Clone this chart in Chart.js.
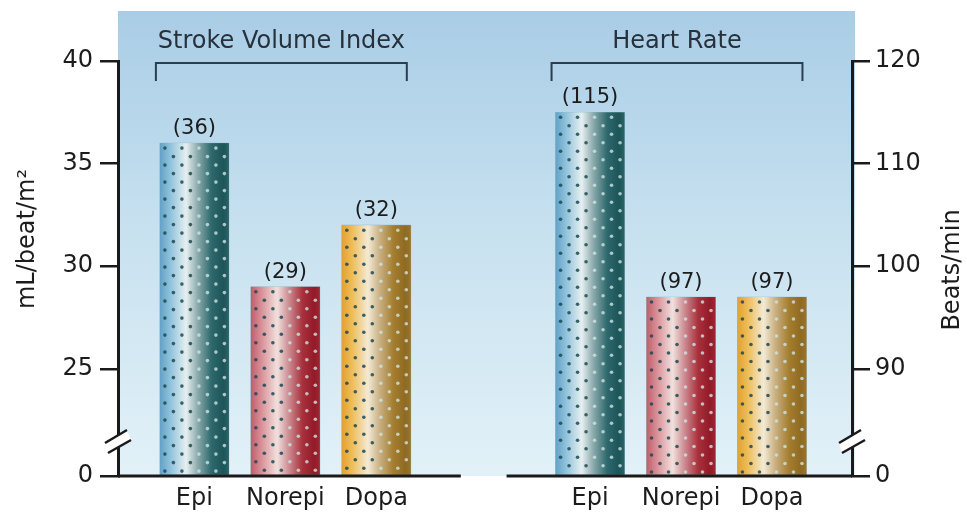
<!DOCTYPE html>
<html>
<head>
<meta charset="utf-8">
<script src="https://cdn.jsdelivr.net/npm/chart.js@4.4.1/dist/chart.umd.min.js"></script>
<style>
  html, body { margin: 0; padding: 0; background: #fff; }
  #wrap { width: 967px; height: 516px; }
</style>
</head>
<body>
<div id="wrap"><canvas id="chart"></canvas></div>
<script>
// values
const drugs = ["Epi", "Norepi", "Dopa"];
const strokeVolumeIndex = [36, 29, 32];
const heartRate = [115, 97, 97];
const svTicks = [25, 30, 35, 40];
const hrTicks = [90, 100, 110, 120];
const groupTitles = ["Stroke Volume Index", "Heart Rate"];
const svAxisTitle = "mL/beat/m²";
const hrAxisTitle = "Beats/min";
const brokenZero = "0";

const FONT = "'DejaVu Sans', sans-serif";
const INK = "#1c1c1c";

// axis ranges (bottom of both axes is a broken "0")
const svMin = 19.78, svMax = 40;
const hrMin = 79.56, hrMax = 120;
const groupGap = 1.35;
const slot = (g, i) => 1 + i + g * (drugs.length + groupGap);
const xPositions = [0, 1].flatMap(g => drugs.map((_, i) => slot(g, i)));
const xLabels = [...drugs, ...drugs];

// bar shading, one palette per drug
const gradStops = [0, 0.15, 0.38, 0.55, 0.75, 0.92, 1];
const palettes = [
    ["#62a1c6", "#8fc2dc", "#e6eff0", "#8aa9ab", "#2d686c", "#1d5559", "#2a6467"],
    ["#bd5f6a", "#d88f97", "#f1e0dc", "#cc8c92", "#a8303c", "#931a28", "#9e2531"],
    ["#e3a12e", "#edbd5a", "#f3ead4", "#c9b082", "#a47d2e", "#8f6a22", "#9a742a"]
];

function paintBar(ctx, el, pal, area) {
    const left = el.x - el.width / 2, right = el.x + el.width / 2;
    const top = el.y, bottom = Math.min(el.base, area.bottom);
    const g = ctx.createLinearGradient(left, 0, right, 0);
    gradStops.forEach((s, k) => g.addColorStop(s, pal[k]));
    ctx.fillStyle = g;
    ctx.fillRect(left, top, right - left, bottom - top);

    // staggered dot texture
    const step = 8.5;
    let row = 0;
    for (let y = top + 5; y < bottom - 2; y += step, row++) {
        for (let x = left + 5 + (row % 2) * step; x < right - 2; x += step * 2) {
            const f = (x - left) / (right - left);
            ctx.fillStyle = f < 0.52 ? "rgba(30,72,82,0.85)" : "rgba(205,228,228,0.8)";
            ctx.beginPath();
            ctx.arc(x, y, 1.8, 0, Math.PI * 2);
            ctx.fill();
        }
    }
}

function breakMark(ctx, x, y) {
    ctx.save();
    ctx.fillStyle = "#fff";
    ctx.beginPath();
    ctx.moveTo(x - 13, y + 2);
    ctx.lineTo(x + 9, y - 11);
    ctx.lineTo(x + 13, y - 1);
    ctx.lineTo(x - 10, y + 12);
    ctx.closePath();
    ctx.fill();
    ctx.strokeStyle = "#1a1a1a";
    ctx.lineWidth = 2.5;
    ctx.beginPath();
    ctx.moveTo(x - 13, y + 2);
    ctx.lineTo(x + 9, y - 11);
    ctx.moveTo(x - 10, y + 12);
    ctx.lineTo(x + 13, y - 1);
    ctx.stroke();
    ctx.restore();
}

const decor = {
    id: "decor",
    beforeDraw(chart) {
        const { ctx, chartArea: a } = chart;
        const g = ctx.createLinearGradient(0, 11, 0, a.bottom);
        g.addColorStop(0, "#a9cde6");
        g.addColorStop(0.5, "#c9e2f0");
        g.addColorStop(1, "#e2f1f8");
        ctx.save();
        ctx.fillStyle = g;
        ctx.fillRect(a.left, 11, a.right + 3 - a.left, a.bottom - 11);
        ctx.restore();
    },
    afterDatasetsDraw(chart) {
        const { ctx, chartArea: a } = chart;
        ctx.save();
        const groups = [];
        chart.data.datasets.forEach((ds, d) => {
            const bars = chart.getDatasetMeta(d).data;
            bars.forEach((el, i) => {
                paintBar(ctx, el, palettes[i], a);
                ctx.fillStyle = INK;
                ctx.font = "21px " + FONT;
                ctx.textAlign = "center";
                ctx.textBaseline = "bottom";
                ctx.fillText("(" + ds.data[i].y + ")", el.x, el.y - 4);
            });
            const first = bars[0], last = bars[bars.length - 1];
            groups.push({
                l: first.x - first.width / 2,
                r: last.x + last.width / 2
            });
        });

        // group brackets with titles
        groups.forEach((gr, k) => {
            const x1 = gr.l - 4, x2 = gr.r - 4;
            ctx.strokeStyle = "#2b3d4f";
            ctx.lineWidth = 2;
            ctx.beginPath();
            ctx.moveTo(x1, 81);
            ctx.lineTo(x1, 63);
            ctx.lineTo(x2, 63);
            ctx.lineTo(x2, 81);
            ctx.stroke();
            ctx.fillStyle = "#26313b";
            ctx.font = "24px " + FONT;
            ctx.textAlign = "center";
            ctx.textBaseline = "middle";
            ctx.fillText(groupTitles[k], (x1 + x2) / 2, 42);
        });

        // baseline, broken between the two groups
        ctx.strokeStyle = "#1a1a1a";
        ctx.lineWidth = 3;
        ctx.beginPath();
        ctx.moveTo(a.left, a.bottom);
        ctx.lineTo(groups[0].r + 50, a.bottom);
        ctx.moveTo(groups[1].l - 49, a.bottom);
        ctx.lineTo(a.right, a.bottom);
        ctx.stroke();
        ctx.restore();
    },
    afterDraw(chart) {
        const { ctx, chartArea: a } = chart;
        breakMark(ctx, a.left, 441);
        breakMark(ctx, a.right, 441);

        ctx.save();
        ctx.fillStyle = INK;
        ctx.font = "24px " + FONT;
        ctx.textAlign = "center";
        ctx.textBaseline = "middle";
        ctx.translate(28, 239);
        ctx.rotate(-Math.PI / 2);
        ctx.fillText(svAxisTitle, 0, 0);
        ctx.restore();

        ctx.save();
        ctx.fillStyle = INK;
        ctx.font = "24px " + FONT;
        ctx.textAlign = "center";
        ctx.textBaseline = "middle";
        ctx.translate(953, 270);
        ctx.rotate(-Math.PI / 2);
        ctx.fillText(hrAxisTitle, 0, 0);
        ctx.restore();
    }
};

const axisGrid = {
    drawOnChartArea: false,
    tickLength: 18,
    color: "#1a1a1a",
    lineWidth: 2.5
};

new Chart(document.getElementById("chart"), {
    type: "bar",
    data: {
        datasets: [
            {
                label: groupTitles[0],
                yAxisID: "y",
                data: drugs.map((_, i) => ({ x: slot(0, i), y: strokeVolumeIndex[i] })),
                base: svMin,
                backgroundColor: "#8fb8cc",
                barThickness: 69,
                grouped: false
            },
            {
                label: groupTitles[1],
                yAxisID: "y2",
                data: drugs.map((_, i) => ({ x: slot(1, i), y: heartRate[i] })),
                base: hrMin,
                backgroundColor: "#8fb8cc",
                barThickness: 69,
                grouped: false
            }
        ]
    },
    options: {
        responsive: true,
        maintainAspectRatio: false,
        animation: false,
        devicePixelRatio: 1,
        layout: { padding: { top: 61, left: 0, right: 0, bottom: 0 } },
        plugins: {
            legend: { display: false },
            tooltip: { enabled: false }
        },
        scales: {
            x: {
                type: "linear",
                min: 0.16,
                max: 8.23,
                offset: false,
                grid: { display: false, drawTicks: false },
                border: { display: false },
                afterBuildTicks: s => { s.ticks = xPositions.map(v => ({ value: v })); },
                afterFit: s => { s.height = 40; },
                ticks: {
                    autoSkip: false,
                    maxRotation: 0,
                    padding: 8,
                    color: INK,
                    font: { family: FONT, size: 24 },
                    callback: (v, i) => xLabels[i]
                }
            },
            y: {
                position: "left",
                min: svMin,
                max: svMax,
                grid: axisGrid,
                border: { color: "#1a1a1a", width: 3 },
                afterBuildTicks: s => { s.ticks = [svMin, ...svTicks].map(v => ({ value: v })); },
                afterFit: s => { s.width = 118; },
                ticks: {
                    padding: 7,
                    color: INK,
                    font: { family: FONT, size: 24 },
                    callback: (v, i) => i === 0 ? brokenZero : String(v)
                }
            },
            y2: {
                position: "right",
                min: hrMin,
                max: hrMax,
                grid: axisGrid,
                border: { color: "#1a1a1a", width: 3 },
                afterBuildTicks: s => { s.ticks = [hrMin, ...hrTicks].map(v => ({ value: v })); },
                afterFit: s => { s.width = 115; },
                ticks: {
                    padding: 5,
                    color: INK,
                    font: { family: FONT, size: 24 },
                    callback: (v, i) => i === 0 ? brokenZero : String(v)
                }
            }
        }
    },
    plugins: [decor]
});
</script>
</body>
</html>
